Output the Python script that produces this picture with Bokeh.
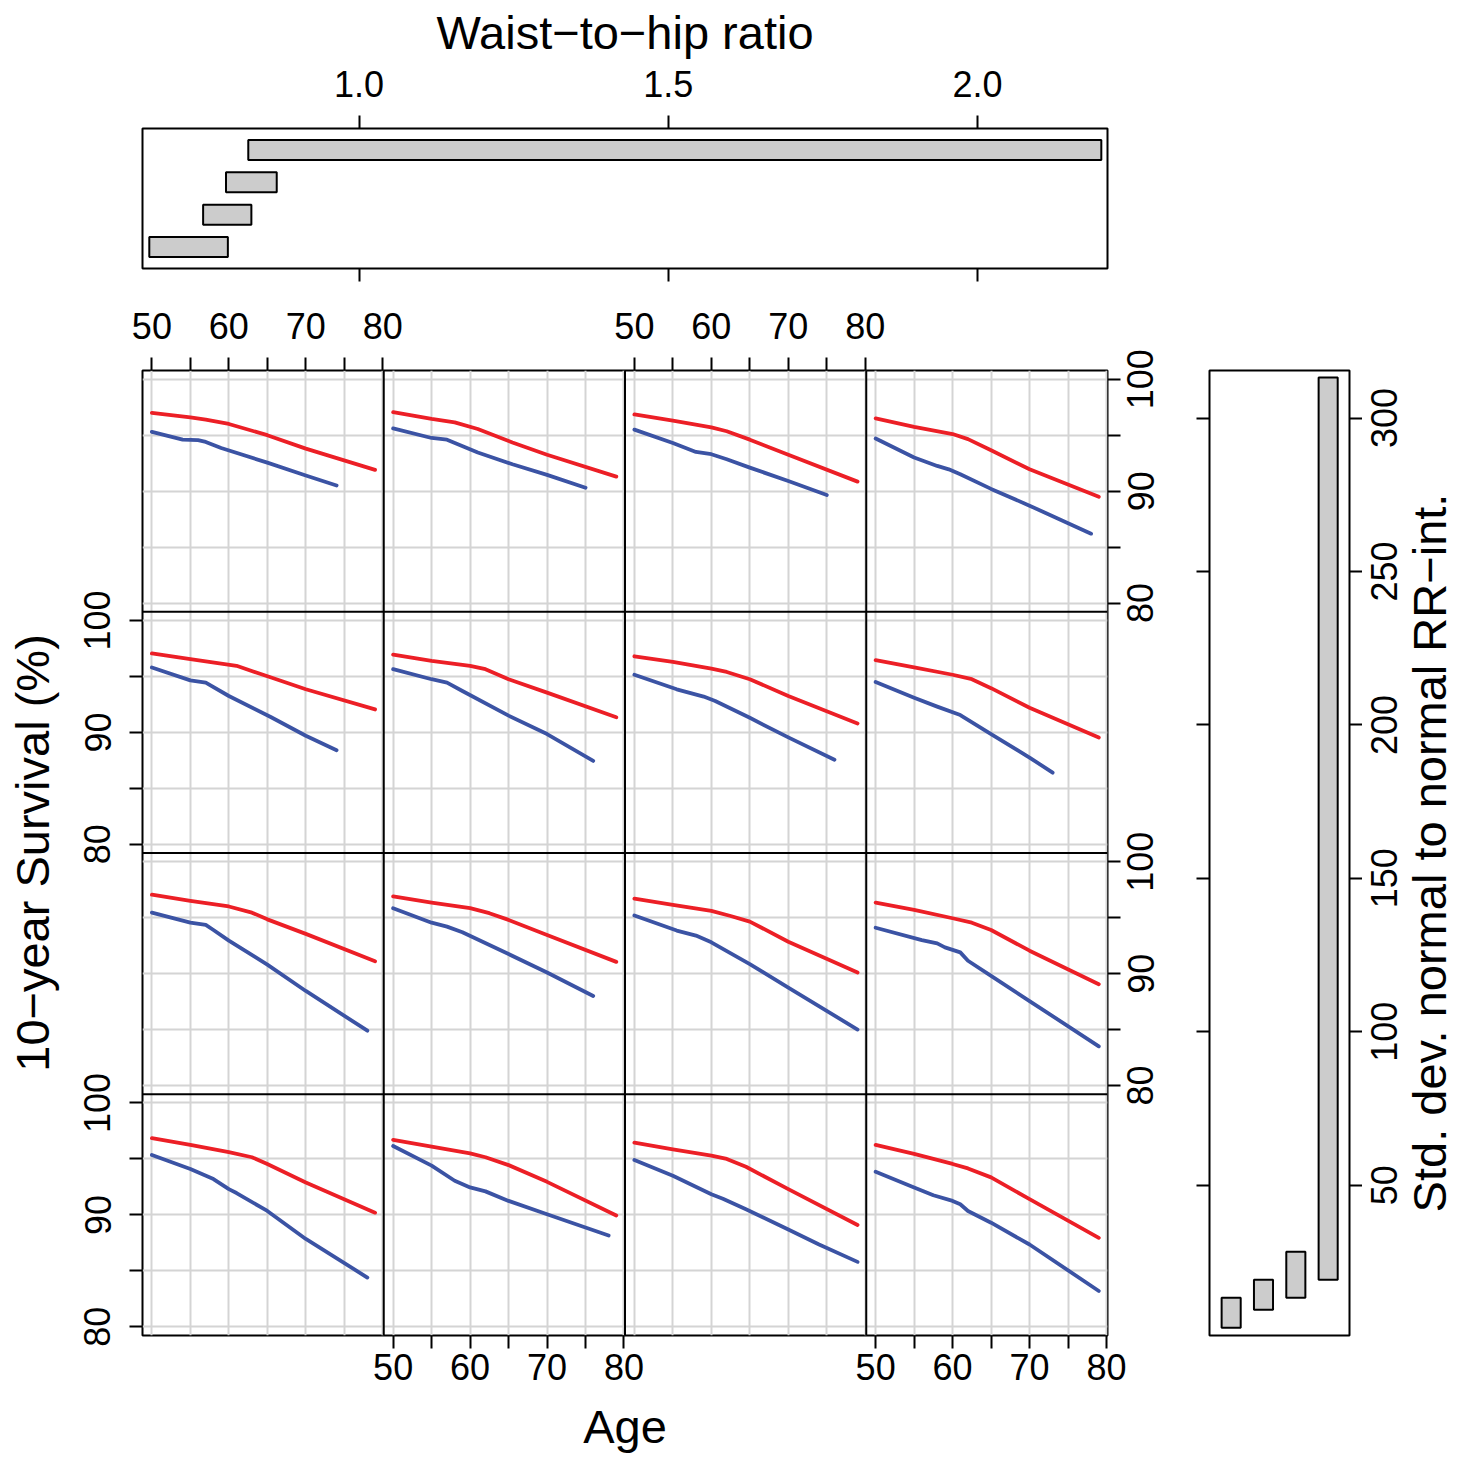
import math
from bokeh.plotting import figure
from bokeh.models import Range1d, LinearAxis, FixedTicker, Span, Grid
from bokeh.layouts import column, row
from bokeh.embed import file_html
from bokeh.resources import INLINE

# ---------------- data ----------------
whr_lo = [0.661, 0.748, 0.785, 0.821]
whr_hi = [0.788, 0.826, 0.867, 2.200]
sdnn_lo = [3.5, 9.4, 13.3, 19.2]
sdnn_hi = [13.3, 19.2, 28.3, 313.2]

whr_ticks = [1.0, 1.5, 2.0]
whr_labels = ["1.0", "1.5", "2.0"]
sdnn_ticks = [50, 100, 150, 200, 250, 300]
sdnn_labels = ["50", "100", "150", "200", "250", "300"]
age_major = [50, 60, 70, 80]
age_minor = [55, 65, 75]
age_labels = ["50", "60", "70", "80"]
surv_major = [80, 90, 100]
surv_minor = [85, 95]
surv_labels = ["80", "90", "100"]
grid_age = [50, 55, 60, 65, 70, 75, 80]
grid_surv = [80, 85, 90, 95, 100]

# rows listed top to bottom, each row has the 4 panels left to right
red_age_row1 = [[50, 55, 57, 60, 65, 70, 79], [50, 55, 58, 61, 65.5, 70, 79], [50, 55, 60, 62, 65, 70, 79], [50, 55, 60, 62, 65, 70, 79]]
red_surv_row1 = [[97.0, 96.6, 96.4, 96.0, 95.0, 93.8, 91.9], [97.05, 96.45, 96.15, 95.55, 94.35, 93.25, 91.3], [96.85, 96.3, 95.7, 95.35, 94.6, 93.25, 90.85], [96.5, 95.75, 95.1, 94.65, 93.65, 91.95, 89.5]]
blue_age_row1 = [[50, 54, 56, 57, 59, 65, 70, 74], [50, 55, 57, 61, 65.5, 70, 75], [50, 55, 58, 60, 62, 65, 70, 75], [50, 55, 58, 59.5, 61, 65, 70, 78]]
blue_surv_row1 = [[95.3, 94.6, 94.55, 94.4, 93.85, 92.55, 91.4, 90.5], [95.6, 94.75, 94.6, 93.45, 92.4, 91.45, 90.3], [95.5, 94.3, 93.5, 93.3, 92.85, 92.1, 90.9, 89.65], [94.7, 93.0, 92.25, 91.95, 91.5, 90.2, 88.7, 86.2]]

red_age_row2 = [[50, 55, 57, 61, 65.5, 70, 79], [50, 55, 60, 62, 65, 70, 79], [50, 55, 60, 62, 65, 70, 79], [50, 55, 60, 62.5, 65, 70, 79]]
red_surv_row2 = [[97.05, 96.55, 96.35, 95.95, 94.9, 93.85, 92.05], [96.95, 96.4, 95.95, 95.65, 94.75, 93.55, 91.35], [96.8, 96.3, 95.7, 95.4, 94.75, 93.25, 90.8], [96.45, 95.8, 95.15, 94.75, 93.95, 92.2, 89.55]]
blue_age_row2 = [[50, 55, 57, 60, 65.5, 70, 74], [50, 55, 57, 59, 65, 70, 76], [50, 55.5, 59, 60.5, 65, 70, 76], [50, 55, 58, 61, 65, 70, 73]]
blue_surv_row2 = [[95.8, 94.65, 94.45, 93.25, 91.35, 89.7, 88.4], [95.65, 94.75, 94.45, 93.7, 91.5, 89.85, 87.45], [95.15, 93.85, 93.2, 92.8, 91.3, 89.55, 87.55], [94.5, 93.1, 92.3, 91.55, 89.85, 87.75, 86.4]]

red_age_row3 = [[50, 55, 60, 63, 65, 70, 79], [50, 55, 60, 62.5, 65, 70, 79], [50, 55, 60, 62.5, 65, 70, 79], [50, 55, 60, 62.5, 65, 70, 79]]
red_surv_row3 = [[97.05, 96.5, 96.0, 95.45, 94.85, 93.55, 91.1], [96.9, 96.35, 95.85, 95.4, 94.8, 93.45, 91.05], [96.7, 96.15, 95.6, 95.15, 94.65, 92.85, 90.1], [96.35, 95.7, 94.95, 94.55, 93.9, 92.05, 89.05]]
blue_age_row3 = [[50, 55, 57, 58, 60, 65, 70, 78], [50, 55, 57, 59, 65, 70, 76], [50, 55.5, 58, 60, 65, 70, 79], [50, 56, 58, 59, 61, 62, 65, 70, 79]]
blue_surv_row3 = [[95.45, 94.55, 94.35, 93.9, 92.95, 90.8, 88.45, 84.9], [95.85, 94.55, 94.2, 93.7, 91.75, 90.1, 88.0], [95.2, 93.85, 93.4, 92.8, 90.85, 88.75, 85.0], [94.1, 93.0, 92.7, 92.35, 91.9, 91.15, 89.8, 87.55, 83.5]]

red_age_row4 = [[50, 55, 60, 63, 65, 70, 79], [50, 55, 60, 62, 65, 70, 79], [50, 55, 60, 62, 64.5, 70, 79], [50, 55, 60, 62, 65, 70, 79]]
red_surv_row4 = [[96.85, 96.25, 95.6, 95.15, 94.55, 92.9, 90.2], [96.7, 96.1, 95.5, 95.15, 94.45, 92.95, 89.95], [96.45, 95.85, 95.3, 95.0, 94.3, 92.3, 89.1], [96.25, 95.45, 94.55, 94.15, 93.35, 91.4, 87.95]]
blue_age_row4 = [[50, 55, 58, 60, 61, 65, 70, 78], [50, 55, 58, 60, 62, 65, 70, 78], [50, 55, 60, 61.5, 64.5, 70, 74, 79], [50, 55, 57.5, 60, 61, 62, 65, 70, 79]]
blue_surv_row4 = [[95.35, 94.1, 93.2, 92.3, 91.95, 90.35, 87.85, 84.4], [96.15, 94.4, 93.05, 92.45, 92.1, 91.25, 90.05, 88.15], [94.9, 93.5, 91.85, 91.45, 90.5, 88.7, 87.35, 85.8], [93.85, 92.45, 91.75, 91.25, 90.95, 90.35, 89.3, 87.35, 83.2]]

red_age = [red_age_row1, red_age_row2, red_age_row3, red_age_row4]
red_surv = [red_surv_row1, red_surv_row2, red_surv_row3, red_surv_row4]
blue_age = [blue_age_row1, blue_age_row2, blue_age_row3, blue_age_row4]
blue_surv = [blue_surv_row1, blue_surv_row2, blue_surv_row3, blue_surv_row4]

# ---------------- style ----------------
FONT = "Liberation Sans"
RED = "#EC1F26"
BLUE = "#3B53A4"
GRIDC = "#D4D4D4"
BARFILL = "#CCCCCC"
TICK_FS = "36px"
TITLE_FS = "47px"
AGE_LO, AGE_HI = 48.78, 80.13
SURV_LO, SURV_HI = 79.22, 100.78
SDNN_LO, SDNN_HI = 1.0, 315.5
AW = AGE_HI - AGE_LO
SH = SURV_HI - SURV_LO
FRAME = 965
TOP_B, BOT_B = 84, 122
OVERLAP = 9  # the side panel's (transparent) left margin slides under the lattice's right margin


def make_axis(major, minor=(), labels=None, tick=13, standoff=0, orientation=None,
              title=None, title_standoff=5, range_name=None, dim="y"):
    kw = {}
    if range_name:
        kw["y_range_name" if dim == "y" else "x_range_name"] = range_name
    ax = LinearAxis(ticker=FixedTicker(ticks=list(major), minor_ticks=list(minor)), **kw)
    ax.axis_line_color = None
    ax.major_tick_out = tick
    ax.major_tick_in = 0
    ax.minor_tick_out = tick
    ax.minor_tick_in = 0
    ax.major_tick_line_width = 2
    ax.minor_tick_line_width = 2
    ax.major_tick_line_color = "black"
    ax.minor_tick_line_color = "black"
    ax.major_label_text_font = FONT
    ax.major_label_text_font_size = TICK_FS
    ax.major_label_standoff = standoff
    if labels is None:
        ax.major_label_text_color = None
    else:
        ax.major_label_text_color = "black"
        ax.major_label_overrides = dict(zip(list(major), labels))
    if orientation is not None:
        ax.major_label_orientation = orientation
    ax.axis_label_text_font = FONT
    ax.axis_label_text_font_size = TITLE_FS
    ax.axis_label_text_font_style = "normal"
    ax.axis_label_text_color = "black"
    if title:
        ax.axis_label = title
        ax.axis_label_standoff = title_standoff
    return ax


def base_fig(border="white", **kw):
    p = figure(output_backend="svg", toolbar_location=None, x_axis_type=None, y_axis_type=None,
               background_fill_color="white", border_fill_color=border, **kw)
    p.outline_line_color = "black"
    p.outline_line_width = 2
    p.outline_line_alpha = 1
    return p


# ---------------- top shingle: waist-to-hip ratio ----------------
top = base_fig(frame_width=FRAME, frame_height=140,
               x_range=Range1d(0.65, 2.21), y_range=Range1d(0.33, 4.67),
               min_border_left=142, min_border_right=361, min_border_top=128, min_border_bottom=18)
lev = [1, 2, 3, 4]
top.quad(left=whr_lo, right=whr_hi, bottom=[k - 0.31 for k in lev], top=[k + 0.31 for k in lev],
         fill_color=BARFILL, line_color="black", line_width=2)
top.add_layout(make_axis(whr_ticks, labels=whr_labels, standoff=19,
                         title="Waist\u2212to\u2212hip ratio", title_standoff=9), "above")
top.add_layout(make_axis(whr_ticks), "below")

# ---------------- main 4x4 lattice ----------------
main = base_fig(frame_width=FRAME, frame_height=FRAME,
                x_range=Range1d(AGE_LO, AGE_LO + 4 * AW), y_range=Range1d(SURV_LO, SURV_LO + 4 * SH),
                min_border_left=142, min_border_right=13 + OVERLAP, min_border_top=TOP_B, min_border_bottom=BOT_B)
for j in range(4):
    main.extra_x_ranges[f"c{j}"] = Range1d(AGE_LO - j * AW, AGE_LO + (4 - j) * AW)
for i in range(4):
    main.extra_y_ranges[f"r{i}"] = Range1d(SURV_LO - (3 - i) * SH, SURV_LO + (1 + i) * SH)

vgrid = [a + j * AW for j in range(4) for a in grid_age]
hgrid = [s + k * SH for k in range(4) for s in grid_surv]
main.add_layout(Grid(dimension=0, ticker=FixedTicker(ticks=vgrid), grid_line_color=GRIDC, grid_line_width=2))
main.add_layout(Grid(dimension=1, ticker=FixedTicker(ticks=hgrid), grid_line_color=GRIDC, grid_line_width=2))

for i in range(4):
    for j in range(4):
        main.line(red_age[i][j], red_surv[i][j], x_range_name=f"c{j}", y_range_name=f"r{i}",
                  line_color=RED, line_width=3.8, line_cap="round", line_join="round")
        main.line(blue_age[i][j], blue_surv[i][j], x_range_name=f"c{j}", y_range_name=f"r{i}",
                  line_color=BLUE, line_width=3.8, line_cap="round", line_join="round")

for k in range(1, 4):
    main.add_layout(Span(location=AGE_LO + k * AW, dimension="height", line_color="black", line_width=2))
    main.add_layout(Span(location=SURV_LO + k * SH, dimension="width", line_color="black", line_width=2))


def age_ticks_for(cols):
    return ([a + j * AW for j in cols for a in age_major],
            [a + j * AW for j in cols for a in age_minor],
            [l for j in cols for l in age_labels])


def surv_ticks_for(rows):
    return ([s + (3 - i) * SH for i in rows for s in surv_major],
            [s + (3 - i) * SH for i in rows for s in surv_minor],
            [l for i in rows for l in surv_labels])


mj, mn, lb = age_ticks_for([0, 2])
main.add_layout(make_axis(mj, mn, lb, standoff=19, dim="x"), "above")
mj, mn, lb = age_ticks_for([1, 3])
main.add_layout(make_axis(mj, mn, lb, standoff=5, dim="x", title="Age", title_standoff=17), "below")
mj, mn, lb = surv_ticks_for([1, 3])
main.add_layout(make_axis(mj, mn, lb, standoff=19, orientation="vertical",
                          title="10\u2212year Survival (%)", title_standoff=23), "left")
mj_r, mn_r, lb_r = surv_ticks_for([0, 2])
main.add_layout(make_axis(mj_r, mn_r), "right")

# ---------------- right shingle: SDNN ----------------
side = base_fig(border=None, frame_width=140, frame_height=FRAME,
                x_range=Range1d(0.33, 4.66), y_range=Range1d(SDNN_LO, SDNN_HI),
                min_border_left=89, min_border_right=13, min_border_top=TOP_B, min_border_bottom=BOT_B)
side.margin = (0, 0, 0, -OVERLAP)
side.extra_y_ranges["surv"] = Range1d(SURV_LO, SURV_LO + 4 * SH)
side.quad(left=[k - 0.295 for k in lev], right=[k + 0.295 for k in lev], bottom=sdnn_lo, top=sdnn_hi,
          fill_color=BARFILL, line_color="black", line_width=2)
side.add_layout(make_axis(sdnn_ticks), "left")
# labels of the lattice's right-hand survival axis (rows 1 and 3)
side.add_layout(make_axis(mj_r, labels=lb_r, tick=0, standoff=43, orientation="vertical",
                          range_name="surv"), "left")
side.add_layout(make_axis(sdnn_ticks), "right")

# strip carrying the SDNN tick labels and title, read bottom-to-top
strip = figure(output_backend="svg", toolbar_location=None, x_axis_type=None, y_axis_type=None,
               frame_width=1, frame_height=FRAME, x_range=Range1d(0, 1), y_range=Range1d(SDNN_LO, SDNN_HI),
               min_border_left=105, min_border_right=0, min_border_top=TOP_B, min_border_bottom=BOT_B,
               background_fill_color=None, border_fill_color="white")
strip.outline_line_color = None
strip.add_layout(make_axis([], tick=0, title="Std. dev. normal to normal RR\u2212int.", title_standoff=12), "left")
strip.add_layout(make_axis(sdnn_ticks, labels=sdnn_labels, tick=0, standoff=2, orientation="vertical"), "left")

layout = column(top, row(main, side, strip, spacing=0), spacing=0)
open("out.html", "w").write(file_html(layout, INLINE))
